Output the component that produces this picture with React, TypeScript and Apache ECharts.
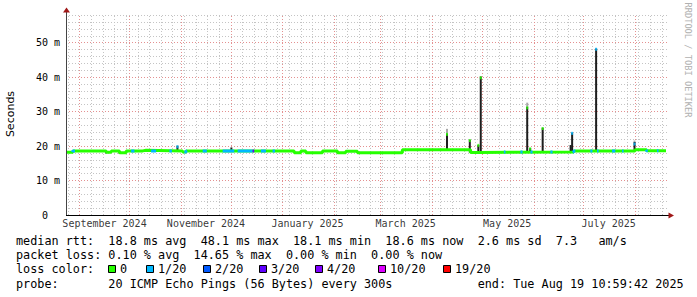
import React, { useEffect, useRef } from 'react';
import * as echarts from 'echarts';

// ---------- data ----------
const START_TIME = '2024-08-24 10:59:42';
const END_TIME = '2025-08-19 10:59:42';

// median rtt (ms), step changes
const medianDates = [
  '2024-08-24 10:59:42', '2024-08-28', '2024-09-17', '2024-09-20', '2024-09-25', '2024-09-29',
  '2024-10-09', '2024-10-11', '2024-11-02', '2024-11-04', '2025-01-08', '2025-01-12',
  '2025-01-15', '2025-01-25', '2025-02-03', '2025-02-08', '2025-02-15', '2025-03-14',
  '2025-04-24', '2025-04-29', '2025-06-25', '2025-07-31 20', '2025-08-07 20',
];
const medianValues = [
  18.2, 18.6, 18.2, 18.6, 18.1, 18.6,
  18.8, 18.6, 18.3, 18.6, 18.1, 18.6,
  18.1, 18.6, 18.1, 18.5, 18.1, 18.9,
  18.15, 18.25, 18.55, 18.95, 18.65,
];

// periods with 1/20 packet loss
const loss1Ranges: [string, string][] = [
  ['2024-08-27 18', '2024-08-29 06'], ['2024-10-02', '2024-10-04'], ['2024-10-14', '2024-10-17'],
  ['2024-10-25', '2024-10-26 12'], ['2024-11-03', '2024-11-04 12'], ['2024-11-14', '2024-11-16 12'],
  ['2024-11-26', '2024-12-03'], ['2024-12-05', '2024-12-14'], ['2024-12-19', '2024-12-22'],
  ['2024-12-26', '2024-12-27 12'], ['2025-05-14', '2025-05-15'], ['2025-05-24', '2025-05-25 06'],
  ['2025-05-30', '2025-05-31 06'], ['2025-06-11', '2025-06-12 06'], ['2025-06-24 12', '2025-06-26'],
  ['2025-07-05', '2025-07-06 06'], ['2025-07-09', '2025-07-10'], ['2025-07-18', '2025-07-20'],
  ['2025-07-24', '2025-07-25'], ['2025-08-07 12', '2025-08-08 12'], ['2025-08-14', '2025-08-15'],
];
// periods with 3/20 packet loss
const loss3Ranges: [string, string][] = [['2024-12-14', '2024-12-15']];

// smoke spikes (ms)
const spikeDates = [
  '2024-09-17', '2024-09-25', '2024-10-29 20', '2024-12-01 06', '2025-04-09 20', '2025-04-23 13',
  '2025-04-28 16', '2025-04-30 03', '2025-05-28 01', '2025-05-29 20', '2025-06-06 08',
  '2025-06-23 03', '2025-06-24 01', '2025-07-08 11', '2025-07-31 13',
];
const smokeLow = [17.9, 17.8, 18.6, 18.6, 18.9, 18.1, 18.1, 18.3, 18.3, 18.3, 18.3, 18.3, 18.3, 18.5, 18.6];
const smokeHigh = [18.7, 18.6, 20.1, 19.6, 23.7, 21.8, 20.3, 40.2, 31.4, 19.4, 25.3, 20.3, 23.9, 48.3, 21.2];
const smokeTop = [18.7, 18.6, 20.1, 19.6, 25.0, 21.8, 20.3, 40.2, 32.6, 19.4, 25.3, 20.3, 23.9, 48.3, 21.6];
const tipValues: (number | null)[] = [null, null, 19.8, null, 23.4, 21.6, 20.2, 39.8, 31.1, 19.2, 25.1, null, 23.7, 48.1, 20.6];
const tipLoss = [0, 0, 1, 0, 0, 0, 0, 0, 0, 0, 0, 0, 1, 1, 1];

// x axis labels
const monthLabelDates = ['2024-09-16', '2024-11-16', '2025-01-16', '2025-03-16', '2025-05-16', '2025-07-16'];
const monthLabels = ['September 2024', 'November 2024', 'January 2025', 'March 2025', 'May 2025', 'July 2025'];

// y axis
const yTicks = [0, 10, 20, 30, 40, 50];
const Y_MAX = 58.33;

// legend
const lossColors = ['#26ff00', '#00b8ff', '#0059ff', '#5e00ff', '#7e00ff', '#dd00ff', '#ff0000'];
const lossLabels = ['0', '1/20', '2/20', '3/20', '4/20', '10/20', '19/20'];
const rttLine = 'median rtt:  18.8 ms avg  48.1 ms max  18.1 ms min  18.6 ms now  2.6 ms sd  7.3   am/s';
const lossLine = 'packet loss: 0.10 % avg  14.65 % max  0.00 % min  0.00 % now';
const probeLine = 'probe:       20 ICMP Echo Pings (56 Bytes) every 300s            end: Tue Aug 19 10:59:42 2025';

// ---------- helpers ----------
const parseT = (s: string) => {
  const [dp, tp] = s.split(' ');
  const [y, m, d] = dp.split('-').map(Number);
  const parts = tp ? tp.split(':').map(Number) : [];
  return Date.UTC(y, m - 1, d, parts[0] || 0, parts[1] || 0, parts[2] || 0);
};
const START = parseT(START_TIME);
const END = parseT(END_TIME);
const medianT = medianDates.map(parseT);
const medianAt = (t: number) => {
  let v = medianValues[0];
  for (let i = 0; i < medianT.length; i++) if (medianT[i] <= t) v = medianValues[i];
  return v;
};
const overlay = (ranges: [string, string][]) => {
  const out: any[] = [];
  ranges.forEach(([a, b]) => {
    const ta = parseT(a);
    const tb = parseT(b);
    out.push([ta, medianAt(ta)]);
    medianT.forEach((mt, i) => {
      if (mt > ta && mt < tb) out.push([mt, medianValues[i]]);
    });
    out.push([tb, medianAt(tb - 1)]);
    out.push([tb, '-']);
  });
  return out;
};
const nb = (s: string) => s.replace(/ /g, '\u00a0');

const MONO = '"DejaVu Sans Mono", monospace';

export default function App() {
  const ref = useRef<HTMLDivElement>(null);
  useEffect(() => {
    if (!ref.current) return;
    const chart = echarts.init(ref.current, undefined, { renderer: 'svg' });

    const spikeT = spikeDates.map(parseT);
    const medianData: any[] = medianT.map((t, i) => [t, medianValues[i]]);
    medianData.push([END, medianValues[medianValues.length - 1]]);

    // grid lines
    const weekly: number[] = [];
    for (let t = Date.UTC(2024, 7, 25); t < END; t += 7 * 86400000) weekly.push(t);
    const monthly: number[] = [];
    for (let i = 0; i < 12; i++) monthly.push(Date.UTC(2024, 8 + i, 1));
    const yMinor: number[] = [];
    for (let v = 2; v < Y_MAX; v += 2) if (v % 10 !== 0) yMinor.push(v);
    const yMajor = yTicks.filter((v) => v > 0);

    const boxX = [108, 146, 203, 259, 315, 378, 443];
    const graphics: any[] = [
      // axes
      { type: 'line', shape: { x1: 66.5, y1: 215, x2: 66.5, y2: 11 }, style: { stroke: '#444', lineWidth: 1 }, z: 50 },
      { type: 'line', shape: { x1: 66, y1: 215.5, x2: 669, y2: 215.5 }, style: { stroke: '#000', lineWidth: 1 }, z: 50 },
      { type: 'polygon', shape: { points: [[63, 12.5], [70, 12.5], [66.5, 7.5]] }, style: { fill: '#a01818' }, z: 51 },
      { type: 'polygon', shape: { points: [[668.5, 212.5], [668.5, 218.5], [674, 215.5]] }, style: { fill: '#a01818' }, z: 51 },
      // y title
      {
        type: 'text', x: 10.5, y: 114, rotation: Math.PI / 2,
        style: { text: 'Seconds', fontSize: 11, fontFamily: '"DejaVu Sans", sans-serif', fill: '#000', align: 'center', verticalAlign: 'middle' },
      },
      // watermark
      {
        type: 'text', x: 688, y: 60, rotation: -Math.PI / 2,
        style: { text: nb('RRDTOOL / TOBI OETIKER'), fontSize: 8.7, fontFamily: MONO, fill: '#b0b0b0', align: 'center', verticalAlign: 'middle' },
      },
      // legend lines
      { type: 'text', x: 16, y: 241, style: { text: nb(rttLine), fontSize: 11.8, fontFamily: MONO, fill: '#000', verticalAlign: 'middle' } },
      { type: 'text', x: 16, y: 255.3, style: { text: nb(lossLine), fontSize: 11.8, fontFamily: MONO, fill: '#000', verticalAlign: 'middle' } },
      { type: 'text', x: 16, y: 269.3, style: { text: nb('loss color:'), fontSize: 11.8, fontFamily: MONO, fill: '#000', verticalAlign: 'middle' } },
      { type: 'text', x: 16, y: 283.5, style: { text: nb(probeLine), fontSize: 11.8, fontFamily: MONO, fill: '#000', verticalAlign: 'middle' } },
    ];
    lossLabels.forEach((lab, i) => {
      graphics.push({ type: 'rect', shape: { x: boxX[i] + 0.5, y: 265.5, width: 7, height: 7 }, style: { fill: lossColors[i], stroke: '#000', lineWidth: 1 } });
      graphics.push({ type: 'text', x: boxX[i] + 12, y: 269.3, style: { text: lab, fontSize: 11.8, fontFamily: MONO, fill: '#000', verticalAlign: 'middle' } });
    });

    const gridSeries = (xs: number[], ys: number[], color: string, z: number) => ({
      type: 'line', data: [], z, silent: true,
      markLine: {
        silent: true, symbol: ['none', 'none'], z, animation: false,
        label: { show: false },
        lineStyle: { color, type: [1, 2], width: 1 },
        emphasis: { disabled: true },
        data: [...xs.map((x) => ({ xAxis: x })), ...ys.map((y) => ({ yAxis: y }))],
      },
    });

    chart.setOption({
      animation: false,
      backgroundColor: '#fff',
      grid: { left: 66, right: 30, top: 14, bottom: 82, containLabel: false },
      xAxis: {
        type: 'time', min: START, max: END,
        axisLine: { show: false }, axisTick: { show: false }, splitLine: { show: false },
        axisLabel: { show: false },
      },
      yAxis: {
        type: 'value', min: 0, max: Y_MAX, interval: 10,
        axisLine: { show: false }, axisTick: { show: false }, splitLine: { show: false },
        axisLabel: {
          formatter: (v: number) => (v === 0 ? '{z|0}' : yTicks.includes(v) ? v + ' m' : ''),
          fontFamily: MONO, fontSize: 10, color: '#000', margin: 6,
          rich: { z: { padding: [0, 12, 0, 0], fontFamily: MONO, fontSize: 10, color: '#000' } },
        },
      },
      graphic: graphics,
      series: [
        gridSeries(weekly, yMinor, '#c4c4c4', 1),
        gridSeries(monthly, yMajor, '#e49090', 2),
        {
          type: 'bar', stack: 'smoke', barWidth: 2, z: 3, silent: true,
          data: spikeT.map((t, i) => [t, smokeLow[i]]), itemStyle: { color: 'transparent' },
        },
        {
          type: 'bar', stack: 'smoke', barWidth: 2, z: 3, silent: true,
          data: spikeT.map((t, i) => [t, +(smokeHigh[i] - smokeLow[i]).toFixed(2)]), itemStyle: { color: '#1e1e1e' },
        },
        {
          type: 'bar', stack: 'smoke', barWidth: 2, z: 3, silent: true,
          data: spikeT.map((t, i) => [t, +(smokeTop[i] - smokeHigh[i]).toFixed(2)]), itemStyle: { color: '#a8a8a8' },
        },
        {
          type: 'line', step: 'end', symbol: 'none', z: 4, silent: true,
          data: medianData, lineStyle: { color: lossColors[0], width: 3 },
        },
        {
          type: 'line', step: 'end', symbol: 'none', z: 5, silent: true, connectNulls: false,
          data: overlay(loss1Ranges), lineStyle: { color: lossColors[1], width: 3 },
        },
        {
          type: 'line', step: 'end', symbol: 'none', z: 5, silent: true, connectNulls: false,
          data: overlay(loss3Ranges), lineStyle: { color: lossColors[3], width: 3 },
        },
        {
          type: 'scatter', symbol: 'rect', symbolSize: [2, 3], z: 6, silent: true,
          data: spikeT
            .map((t, i) => (tipValues[i] == null ? null : { value: [t, tipValues[i]], itemStyle: { color: lossColors[tipLoss[i]] } }))
            .filter((x) => x),
        },
        {
          type: 'scatter', symbolSize: 0, z: 7, silent: true, clip: false,
          data: monthLabelDates.map((d, i) => [parseT(d), 0, monthLabels[i]]),
          label: {
            show: true, position: 'bottom', distance: 3,
            formatter: (p: any) => p.value[2],
            fontFamily: MONO, fontSize: 10, color: '#000',
          },
        },
      ],
    });
    return () => chart.dispose();
  }, []);
  return <div ref={ref} style={{ position: 'fixed', left: 0, top: 0, width: 697, height: 297 }} />;
}
